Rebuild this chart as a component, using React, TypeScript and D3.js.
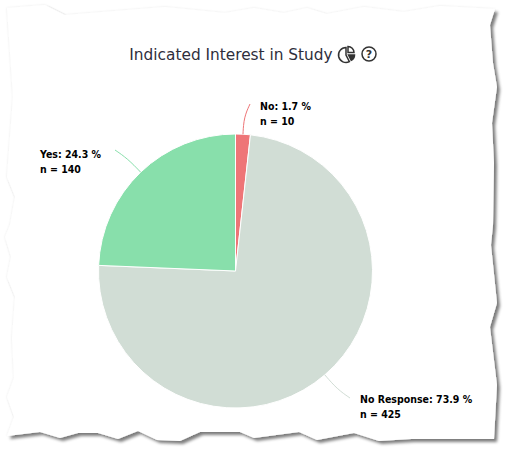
import React from "react";
import * as d3 from "d3";

const categories = ["No", "No Response", "Yes"];
const counts = [10, 425, 140];
const percents = ["1.7", "73.9", "24.3"];
const colors = ["#ee7577", "#d1ddd5", "#88dfab"];
const labelAnchors: [number, number][] = [[260, 110], [360, 403], [40, 158]];
const leaderEnds: [number, number][] = [[250, 104], [350, 398], [115, 150]];
const tornEdge: [number, number][] = [
  [7, 8], [45, 5], [65, 15], [165, 7], [225, 13], [254, 8], [284, 13], [307, 8], [327, 14], [364, 7], [404, 12], [440, 6], [495, 9],
  [490, 25], [493, 63], [497, 87], [492, 123], [494, 163], [493, 225], [491, 245], [497, 303], [490, 327], [497, 385], [494, 439],
  [441, 439], [411, 439], [379, 441], [354, 433], [317, 440], [299, 432], [254, 438], [240, 432], [200, 432], [180, 441], [157, 440],
  [138, 431], [118, 439], [98, 433], [78, 433], [60, 438], [40, 432], [7, 436],
  [14, 417], [7, 397], [14, 378], [12, 338], [15, 297], [7, 277], [11, 257], [5, 237], [10, 225], [15, 197], [7, 177], [13, 97],
];

const W = 508, H = 451, CX = 235.5, CY = 271, R = 137;

export default function App() {
  const pie = d3.pie<number>().sort(null)(counts);
  const arc = d3.arc<d3.PieArcDatum<number>>().innerRadius(0).outerRadius(R);
  const edge = d3.line().curve(d3.curveLinearClosed)(tornEdge) as string;
  const leader = d3.line().curve(d3.curveBasis);
  const iconPie = d3.arc();
  return (
    <svg width={W} height={H} viewBox={`0 0 ${W} ${H}`} style={{ position: "fixed", left: 0, top: 0, background: "#fff" }}>
      <defs>
        <filter id="torn" x="-5%" y="-5%" width="110%" height="110%">
          <feGaussianBlur in="SourceAlpha" stdDeviation="1.7" result="b1" />
          <feOffset in="b1" dx="3" dy="3" result="o1" />
          <feFlood floodColor="#000" floodOpacity="0.5" />
          <feComposite in2="o1" operator="in" result="s1" />
          <feGaussianBlur in="SourceAlpha" stdDeviation="1.2" result="b2" />
          <feFlood floodColor="#000" floodOpacity="0.1" />
          <feComposite in2="b2" operator="in" result="s2" />
          <feMerge>
            <feMergeNode in="s2" />
            <feMergeNode in="s1" />
            <feMergeNode in="SourceGraphic" />
          </feMerge>
        </filter>
      </defs>
      <path d={edge} fill="#fff" filter="url(#torn)" />
      <text x={231} y={60} textAnchor="middle" fontFamily="DejaVu Sans" fontSize={15.35} fill="#2e2e3c">
        Indicated Interest in Study
      </text>
      <g transform="translate(347 54)" fill="none" stroke="#333" strokeWidth={1.5}>
        <path d={iconPie({ innerRadius: 0, outerRadius: 7.5, startAngle: Math.PI * 0.85, endAngle: Math.PI * 2 }) as string} transform="translate(-1 1)" />
        <path d={iconPie({ innerRadius: 0, outerRadius: 6, startAngle: 0, endAngle: Math.PI / 2 }) as string} transform="translate(1 -1.5)" />
        <path d={iconPie({ innerRadius: 0, outerRadius: 6, startAngle: Math.PI / 2, endAngle: Math.PI * 0.85 }) as string} transform="translate(1.5 1)" fill="#333" />
      </g>
      <g transform="translate(369 54)">
        <circle r={7} fill="none" stroke="#333" strokeWidth={1.5} />
        <text y={4} textAnchor="middle" fontFamily="DejaVu Sans" fontSize={11} fontWeight="bold" fill="#333">?</text>
      </g>
      <g transform={`translate(${CX} ${CY})`}>
        {pie.map((d, i) => (
          <path key={categories[i]} d={arc(d) as string} fill={colors[i]} stroke="#fff" strokeWidth={1} strokeLinejoin="round" />
        ))}
      </g>
      {pie.map((d, i) => {
        const mid = (d.startAngle + d.endAngle) / 2;
        const sx = CX + R * Math.sin(mid), sy = CY - R * Math.cos(mid);
        const ex = leaderEnds[i][0], ey = leaderEnds[i][1];
        const kx = CX + (R + 0.55 * Math.hypot(ex - sx, ey - sy)) * Math.sin(mid);
        const ky = CY - (R + 0.55 * Math.hypot(ex - sx, ey - sy)) * Math.cos(mid);
        return (
          <path key={categories[i]} d={leader([[sx, sy], [kx, ky], [ex, ey]]) as string} fill="none" stroke={colors[i]} strokeWidth={1} />
        );
      })}
      {categories.map((c, i) => (
        <text key={c} fontFamily="DejaVu Sans" fontSize={10.5} fontWeight="bold" fill="#000" style={{ fontStretch: "condensed" }} x={labelAnchors[i][0]} y={labelAnchors[i][1]}>
          <tspan x={labelAnchors[i][0]}>{`${c}: ${percents[i]} %`}</tspan>
          <tspan x={labelAnchors[i][0]} dy={14.5}>{`n = ${counts[i]}`}</tspan>
        </text>
      ))}
    </svg>
  );
}
